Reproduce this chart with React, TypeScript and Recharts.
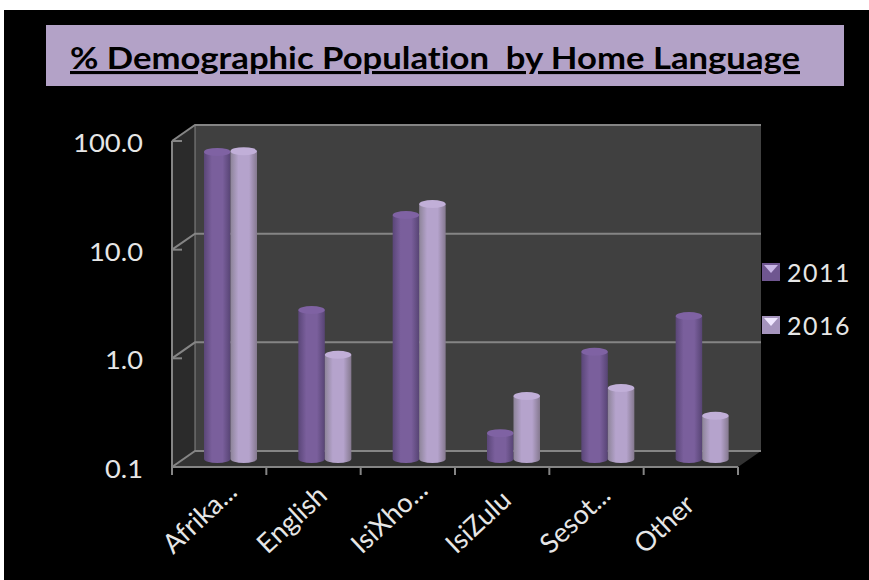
import { Bar, BarChart, Legend, XAxis, YAxis, usePlotArea } from "recharts";

const categories = ["Afrika...", "English", "IsiXho...", "IsiZulu", "Sesot...", "Other"];
const values2011 = [67, 2.35, 17.6, 0.173, 0.97, 2.07];
const values2016 = [68, 0.91, 22.2, 0.38, 0.45, 0.25];
const yTicks = [0.1, 1, 10, 100];

const data = categories.map((name, i) => ({
  name,
  y2011: values2011[i],
  y2016: values2016[i]
}));

const DEPTH_X = 23;
const DEPTH_Y = 16;
const FONT = "Lato, 'Open Sans', sans-serif";
const LINE = "#858585";

function Walls() {
  const plot = usePlotArea();
  if (!plot) return null;
  const { x, y, width, height } = plot;
  const right = x + width;
  const bottom = y + height;
  const band = width / categories.length;
  const levels = yTicks.map((_, i) => bottom - (i * height) / (yTicks.length - 1));
  return (
    <g>
      <defs>
        <linearGradient id="dark" x1="0" x2="1" y1="0" y2="0">
          <stop offset="0" stopColor="#5a4678" />
          <stop offset="0.3" stopColor="#7a5f9c" />
          <stop offset="0.7" stopColor="#7a5f9c" />
          <stop offset="1" stopColor="#574474" />
        </linearGradient>
        <linearGradient id="light" x1="0" x2="1" y1="0" y2="0">
          <stop offset="0" stopColor="#8d8499" />
          <stop offset="0.3" stopColor="#b5a3cc" />
          <stop offset="0.7" stopColor="#b5a3cc" />
          <stop offset="1" stopColor="#85798f" />
        </linearGradient>
      </defs>
      <rect x={x + DEPTH_X} y={y - DEPTH_Y} width={width} height={height} fill="#404040" />
      <polygon
        points={`${x},${y} ${x + DEPTH_X},${y - DEPTH_Y} ${x + DEPTH_X},${bottom - DEPTH_Y} ${x},${bottom}`}
        fill="#2b2b2b"
      />
      <polygon
        points={`${x},${bottom} ${x + DEPTH_X},${bottom - DEPTH_Y} ${right + DEPTH_X},${bottom - DEPTH_Y} ${right},${bottom}`}
        fill="#333333"
      />
      {levels.map((ly) => (
        <g key={ly} stroke={LINE} strokeWidth={2} fill="none">
          <polyline points={`${x},${ly} ${x + DEPTH_X},${ly - DEPTH_Y} ${right + DEPTH_X},${ly - DEPTH_Y}`} />
          <line x1={x} x2={x + 10} y1={ly} y2={ly} />
        </g>
      ))}
      <line x1={x + DEPTH_X} x2={x + DEPTH_X} y1={y - DEPTH_Y} y2={bottom - DEPTH_Y} stroke={LINE} strokeWidth={1} />
      <line x1={x} x2={x} y1={y} y2={bottom + 8} stroke={LINE} strokeWidth={2} />
      <line x1={x} x2={right} y1={bottom} y2={bottom} stroke={LINE} strokeWidth={2} />
      {categories.map((c, i) => (
        <line
          key={c}
          x1={x + (i + 1) * band}
          x2={x + (i + 1) * band}
          y1={bottom}
          y2={bottom + 8}
          stroke={LINE}
          strokeWidth={2}
        />
      ))}
    </g>
  );
}

function Cylinder({ x, y, width, height, fill, capFill }: any) {
  const left = x + DEPTH_X / 2 - 0.5;
  const cy = y - DEPTH_Y / 2;
  const rx = width / 2;
  const ry = 4;
  return (
    <g>
      <path
        d={`M${left},${cy} h${width} v${height} a${rx},${ry} 0 0 1 ${-width},0 z`}
        fill={fill}
      />
      <ellipse cx={left + rx} cy={cy} rx={rx} ry={ry} fill={capFill} />
    </g>
  );
}

function YTick({ x, y, payload }: any) {
  const label = payload.value.toFixed(1);
  return (
    <text
      x={x - 21}
      y={y + 11}
      textAnchor="end"
      fill="#e6e6e6"
      fontFamily={FONT}
      fontSize={25}
      textLength={(label.length - 1) * 16 + 6}
      lengthAdjust="spacingAndGlyphs"
    >
      {label}
    </text>
  );
}

function XTick({ x, y, payload }: any) {
  const tx = x - 46;
  const ty = y + 80;
  return (
    <text
      x={tx}
      y={ty}
      textAnchor="start"
      fill="#e6e6e6"
      fontFamily={FONT}
      fontSize={27}
      transform={`rotate(-43 ${tx} ${ty})`}
    >
      {payload.value}
    </text>
  );
}

function Swatch({ color, top }: { color: string; top: string }) {
  return (
    <svg width={18} height={18} style={{ display: "block" }}>
      <rect width={18} height={18} fill={color} />
      <polygon points="2,2 16,2 9,10" fill={top} />
    </svg>
  );
}

function LegendBox({ payload }: any) {
  return (
    <div>
      {(payload ?? []).map((p: any, i: number) => (
        <div
          key={p.value}
          style={{ display: "flex", alignItems: "center", height: 53, color: "#e6e6e6", fontFamily: FONT, fontSize: 25 }}
        >
          <Swatch color={i === 0 ? "#6f5690" : "#a594bd"} top={i === 0 ? "#c9b6e6" : "#f0e8ff"} />
          <span style={{ marginLeft: 7, letterSpacing: 1.5 }}>{p.value}</span>
        </div>
      ))}
    </div>
  );
}

export default function App() {
  return (
    <div style={{ position: "absolute", left: 0, top: 0, width: 869, height: 580, background: "#fff", overflow: "hidden" }}>
      <div style={{ position: "absolute", left: 4, top: 10, width: 865, height: 570, background: "#000" }} />
      <div style={{ position: "absolute", left: 46, top: 25, width: 798, height: 61, background: "#b3a2c7" }} />
      <svg style={{ position: "absolute", left: 0, top: 0 }} width={869} height={90}>
        <text
          x={70}
          y={69}
          fontFamily={FONT}
          fontWeight={700}
          fontSize={31}
          fill="#000"
          textDecoration="underline"
          textLength={730}
          lengthAdjust="spacingAndGlyphs"
          style={{ whiteSpace: "pre", fontVariantLigatures: "none" }}
        >
          % Demographic Population  by Home Language
        </text>
      </svg>
      <div style={{ position: "absolute", left: 0, top: 0 }}>
        <BarChart
          width={869}
          height={580}
          data={data}
          barSize={26.5}
          barGap={0}
          barCategoryGap={0}
          margin={{ top: 141, right: 24, bottom: 53, left: 0 }}
        >
          <Walls />
          <XAxis dataKey="name" height={60} axisLine={false} tickLine={false} interval={0} tick={<XTick />} />
          <YAxis
            width={172}
            scale="log"
            domain={[0.1, 100]}
            ticks={yTicks}
            allowDataOverflow
            axisLine={false}
            tickLine={false}
            tick={<YTick />}
          />
          <Legend
            layout="vertical"
            align="right"
            verticalAlign="top"
            content={<LegendBox />}
            wrapperStyle={{ position: "absolute", left: 762, top: 245, width: 107 }}
          />
          <Bar
            dataKey="y2011"
            name="2011"
            fill="#6f5690"
            isAnimationActive={false}
            shape={(p: any) => <Cylinder {...p} fill="url(#dark)" capFill="#7f62a3" />}
          />
          <Bar
            dataKey="y2016"
            name="2016"
            fill="#a594bd"
            isAnimationActive={false}
            shape={(p: any) => <Cylinder {...p} fill="url(#light)" capFill="#c1afd8" />}
          />
        </BarChart>
      </div>
    </div>
  );
}
